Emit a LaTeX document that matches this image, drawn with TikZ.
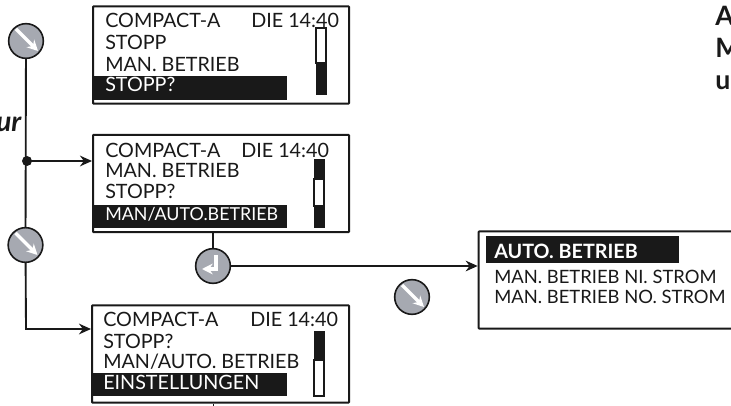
\documentclass[tikz,border=0pt]{standalone}
\usepackage{fontspec}
\setmainfont{Lato}
\usetikzlibrary{arrows.meta}
\definecolor{keygray}{HTML}{A6A9B1}
\tikzset{
  screen/.style={draw=black!90,line width=1.5pt,fill=white,rounded corners=0.5pt,minimum width=#1,minimum height=73pt,inner sep=0pt},
  line/.style={anchor=base west,inner sep=0pt,font=\fontsize{14.8}{15}\selectfont,text=black!90},
  sel/.style={line,text=white},
  key/.style={circle,draw=black!90,line width=1.2pt,fill=keygray,minimum size=26pt,inner sep=0pt},
  conn/.style={line width=1.4pt,draw=black!90},
  bar/.style={fill=black!90,draw=black!90},
  track/.style={fill=white,draw=black!90,line width=0.9pt},
  side/.style={anchor=base west,inner sep=0pt,font=\fontsize{20}{20}\selectfont\bfseries,text=black!90}
}
\newcommand{\downkey}[1]{
  \draw [white,line width=2.6pt,-{Stealth[length=8pt,width=8pt]}] ([shift={(-10,-12)}]#1.center) -- ([shift={(12,10)}]#1.center);
}
\begin{document}
\begin{tikzpicture}[x=0.75pt,y=-0.75pt]
\useasboundingbox (0,0) rectangle (731,406);
\clip (0,0) rectangle (731,406);
% first screen
\node [screen=192pt] (scra) at (221,55) {};
\fill [black!90] (93,76) rectangle (287,100);
\node [line] (aline1) at (105,28) {COMPACT-A};
\node [line] (aclock) at (251,28) {DIE 14:40};
\node [line] (aline2) at (105,50) {STOPP};
\node [line] (aline3) at (105,72) {MAN. BETRIEB};
\node [sel] (aline4) at (105,92) {STOPP?};
\draw [track] (316,28) rectangle (326,63);
\fill [bar] (316,63) rectangle (326,94);
% second screen
\node [screen=192pt] (scrb) at (221,183.5) {};
\fill [black!90] (93,205) rectangle (287,228);
\node [line] (bline1) at (105,157) {COMPACT-A};
\node [line] (bclock) at (241,157) {DIE 14:40};
\node [line] (bline2) at (105,177) {MAN. BETRIEB};
\node [line] (bline3) at (105,198) {STOPP?};
\node [sel,font=\fontsize{13.4}{15}\selectfont] (bline4) at (105,220) {MAN/AUTO.BETRIEB};
\draw [track] (314,179) rectangle (324,206);
\fill [bar] (314,159) rectangle (324,179);
\fill [bar] (314,206) rectangle (324,227);
% third screen
\node [screen=192.75pt] (scrc) at (220.5,354) {};
\fill [black!90] (93,373) rectangle (287,396);
\node [line] (cline1) at (103,326) {COMPACT-A};
\node [line] (cclock) at (250,326) {DIE 14:40};
\node [line] (cline2) at (103,348) {STOPP?};
\node [line] (cline3) at (103,368) {MAN/AUTO. BETRIEB};
\node [sel] (cline4) at (103,389) {EINSTELLUNGEN};
\draw [track] (314,360) rectangle (324,396);
\fill [bar] (314,331) rectangle (324,360);
% mode screen
\node [screen=200pt] (scrd) at (612,280) {};
\fill [black!90] (486,236) rectangle (679,263);
\node [sel,font=\fontsize{14.8}{15}\selectfont\bfseries] (dline1) at (494,258) {AUTO. BETRIEB};
\node [line,font=\fontsize{13.8}{15}\selectfont] (dline2) at (494,283) {MAN. BETRIEB NI. STROM};
\node [line,font=\fontsize{13.8}{15}\selectfont] (dline3) at (494,303) {MAN. BETRIEB NO. STROM};
% keys
\node [key] (keya) at (26,41) {};
\node [key] (keyb) at (25.5,245) {};
\node [key] (keyc) at (213,266) {};
\node [key] (keyd) at (412,297) {};
\downkey{keya}
\downkey{keyb}
\downkey{keyd}
\draw [white,line width=2.6pt,-{Stealth[length=8pt,width=8pt]}] ([shift={(3,-11)}]keyc.center) -- ([shift={(3,3)}]keyc.center) -- ([shift={(-11,3)}]keyc.center);
% connectors
\fill [black!90] (27,161) circle (5) coordinate (dot);
\coordinate (bend) at (26,329);
\coordinate (tick) at (213,406);
\draw [conn] (keya) -- (keyb);
\draw [conn,-{Stealth[length=9pt,width=8pt]}] (dot) -- (dot -| scrb.west);
\draw [conn,-{Stealth[length=9pt,width=8pt]}] (keyb) -- (bend) -- (bend -| scrc.west);
\draw [conn] (keyc |- scrb.south) -- (keyc);
\draw [conn,-{Stealth[length=9pt,width=8pt]}] (keyc) -- (keyc -| scrd.west);
\draw [conn,line width=0.7pt] (tick |- scrc.south) -- (tick);
% cut off text
\node [side,font=\fontsize{21}{21}\selectfont\bfseries\itshape] (cuta) at (-4,132) {ur};
\node [side] (cutb) at (715,26) {A};
\node [side] (cutc) at (715,58) {M};
\node [side] (cutd) at (715,90) {u};
\end{tikzpicture}
\end{document}
